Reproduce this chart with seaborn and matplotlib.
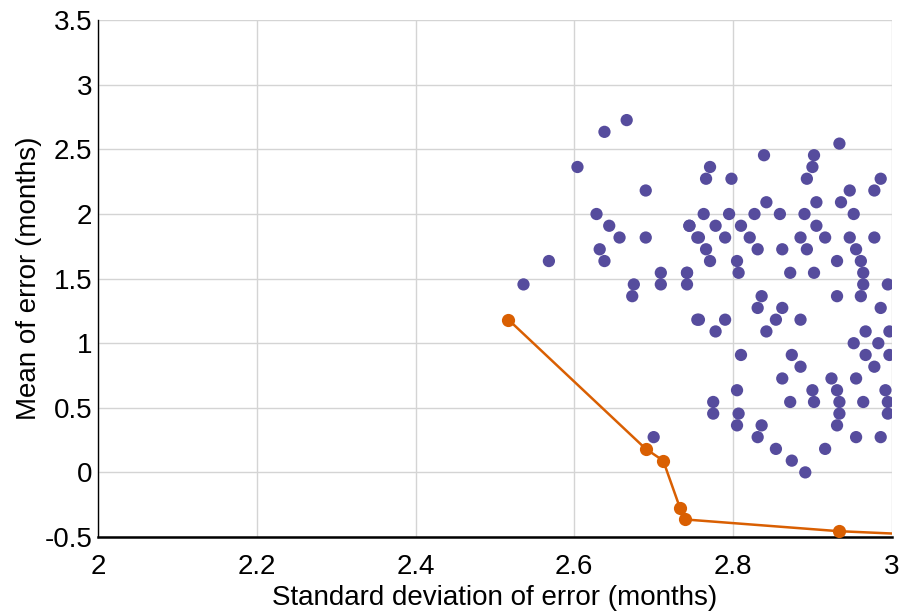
import numpy as np
import pandas as pd
import matplotlib
matplotlib.use('Agg')
import matplotlib.pyplot as plt
import seaborn as sns

# purple cloud: std of error (x) and mean of error (y), in months
std_err = [
    2.666, 2.638, 2.604, 2.690, 2.628, 2.644, 2.657, 2.690, 2.632, 2.638,
    2.568, 2.536, 2.709, 2.742, 2.675, 2.709, 2.742, 2.673, 2.745, 2.755,
    2.755, 2.700,
    2.934, 2.839, 2.902, 2.771, 2.900, 2.766, 2.798, 2.893, 2.986, 2.947,
    2.978, 2.842, 2.905, 2.936,
    2.763, 2.795, 2.827, 2.859, 2.890, 2.952,
    2.745, 2.778, 2.810, 2.905,
    2.757, 2.790, 2.821, 2.885, 2.916, 2.947, 2.978,
    2.766, 2.831, 2.862, 2.893, 2.955,
    2.771, 2.805, 2.931, 2.961,
    2.742, 2.807, 2.872, 2.902, 2.964,
    2.964, 2.995,
    2.836, 2.931, 2.961,
    2.831, 2.862, 2.986,
    2.757, 2.790, 2.854, 2.885,
    2.778, 2.842, 2.967, 2.997,
    2.952, 2.983,
    2.810, 2.874, 2.967, 2.997,
    2.885, 2.978,
    2.862, 2.924, 2.955,
    2.805, 2.900, 2.931, 2.992,
    2.775, 2.872, 2.902, 2.934, 2.964, 2.995,
    2.775, 2.807, 2.934, 2.995,
    2.805, 2.836, 2.931,
    2.831, 2.955, 2.986,
    2.854, 2.916,
    2.874,
    2.891,
]
mean_err = [
    2.727, 2.636, 2.364, 2.182, 2.000, 1.909, 1.818, 1.818, 1.727, 1.636,
    1.636, 1.455, 1.545, 1.545, 1.455, 1.455, 1.455, 1.364, 1.909, 1.818,
    1.182, 0.273,
    2.545, 2.455, 2.455, 2.364, 2.364, 2.273, 2.273, 2.273, 2.273, 2.182,
    2.182, 2.091, 2.091, 2.091,
    2.000, 2.000, 2.000, 2.000, 2.000, 2.000,
    1.909, 1.909, 1.909, 1.909,
    1.818, 1.818, 1.818, 1.818, 1.818, 1.818, 1.818,
    1.727, 1.727, 1.727, 1.727, 1.727,
    1.636, 1.636, 1.636, 1.636,
    1.545, 1.545, 1.545, 1.545, 1.545,
    1.455, 1.455,
    1.364, 1.364, 1.364,
    1.273, 1.273, 1.273,
    1.182, 1.182, 1.182, 1.182,
    1.091, 1.091, 1.091, 1.091,
    1.000, 1.000,
    0.909, 0.909, 0.909, 0.909,
    0.818, 0.818,
    0.727, 0.727, 0.727,
    0.636, 0.636, 0.636, 0.636,
    0.545, 0.545, 0.545, 0.545, 0.545, 0.545,
    0.455, 0.455, 0.455, 0.455,
    0.364, 0.364, 0.364,
    0.273, 0.273, 0.273,
    0.182, 0.182,
    0.091,
    0.000,
]

# orange frontier
front_std = [2.517, 2.690, 2.712, 2.733, 2.739, 2.933, 3.10]
front_mean = [1.182, 0.182, 0.091, -0.273, -0.364, -0.455, -0.50]

purple = '#564c9d'
orange = '#d95f02'

sns.set_theme(style='whitegrid')
plt.rcParams['font.family'] = ['Liberation Sans', 'DejaVu Sans']

fig = plt.figure(figsize=(9.01, 6.13), dpi=100)
ax = fig.add_axes([0.1088, 0.124, 0.881, 0.843])

cloud = pd.DataFrame({'std': std_err, 'mean': mean_err})
front = pd.DataFrame({'std': front_std, 'mean': front_mean})

sns.scatterplot(data=cloud, x='std', y='mean', ax=ax, color=purple,
                s=78, edgecolor='none', zorder=3)
sns.lineplot(data=front, x='std', y='mean', ax=ax, color=orange, sort=False,
             lw=1.8, marker='o', markersize=9.5, markeredgewidth=0, zorder=4)

ax.set_xlim(2, 3)
ax.set_ylim(-0.5, 3.5)
ax.set_xticks(np.arange(2, 3.01, 0.2))
ax.set_xticklabels(['2', '2.2', '2.4', '2.6', '2.8', '3'])
ax.set_yticks(np.arange(-0.5, 3.51, 0.5))
ax.set_yticklabels(['-0.5', '0', '0.5', '1', '1.5', '2', '2.5', '3', '3.5'])
ax.tick_params(axis='both', labelsize=20, length=0, colors='black')
ax.tick_params(axis='x', pad=12)
ax.tick_params(axis='y', pad=4)

ax.grid(True, color='#d4d4d4', lw=1)
ax.set_facecolor('white')
for side in ['top', 'right']:
    ax.spines[side].set_visible(False)
ax.spines['left'].set_color('black')
ax.spines['left'].set_linewidth(1)
ax.spines['bottom'].set_color('black')
ax.spines['bottom'].set_linewidth(1.8)

ax.set_xlabel('Standard deviation of error (months)', fontsize=20,
              color='black', labelpad=4)
ax.set_ylabel('Mean of error (months)', fontsize=20, color='black',
              labelpad=2)

fig.savefig('out.png', dpi=100)
